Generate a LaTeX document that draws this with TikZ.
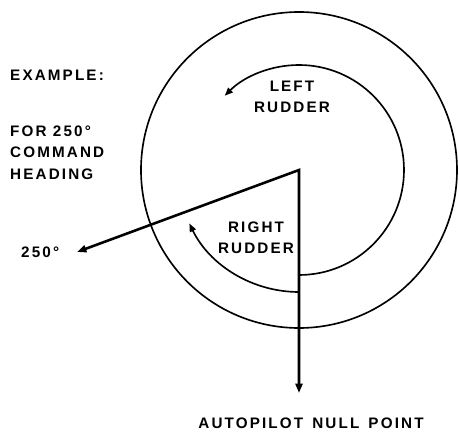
\documentclass[tikz,border=0pt]{standalone}
\usepackage{fontspec}
\setmainfont{Liberation Sans}
\newfontfamily\lblfont[LetterSpace=14]{Liberation Sans Bold}
\usetikzlibrary{arrows.meta}
\tikzset{
  lbl/.style={font=\lblfont\fontsize{13}{18}\selectfont, inner sep=0pt},
  ray/.style={line width=2.2pt, {Triangle[length=8pt,width=6pt]}-{Triangle[length=8pt,width=6pt]}},
  ring/.style={line width=1.4pt},
  turn/.style={line width=1.4pt, -{Triangle[length=7pt,width=5.5pt]}}
}
\begin{document}
\begin{tikzpicture}[x=0.3mm,y=0.3mm]
\useasboundingbox (0,0) rectangle (459,437);

% pivot and ends
\coordinate (pivot) at (299,267);
\coordinate (cmd) at (77,185);
\coordinate (null) at (299,44);

% outer circle
\draw[ring] (pivot) circle (158);

% rudder arcs
\draw[turn] ([shift={(-90:105)}]pivot) arc (-90:135:105);
\draw[turn] ([shift={(-90:122)}]pivot) arc (-90:-154:122);

% heading lines
\draw[ray, line join=miter] (cmd) -- (pivot) -- (null);

% labels
\node[lbl, anchor=west] (example) at (10,362) {EXAMPLE:};
\node[lbl, anchor=north west, align=left] (for) at (10,311) {FOR 250°\\COMMAND\\HEADING};
\node[lbl, anchor=west] (deg) at (21,185) {250°};
\node[lbl, align=center] (left) at (292,340) {LEFT\\RUDDER};
\node[lbl, align=center] (right) at (256,199) {RIGHT\\RUDDER};
\node[lbl] (nullpt) at (311,14) {AUTOPILOT\hspace{0.6em}NULL\hspace{0.6em}POINT};
\end{tikzpicture}
\end{document}
